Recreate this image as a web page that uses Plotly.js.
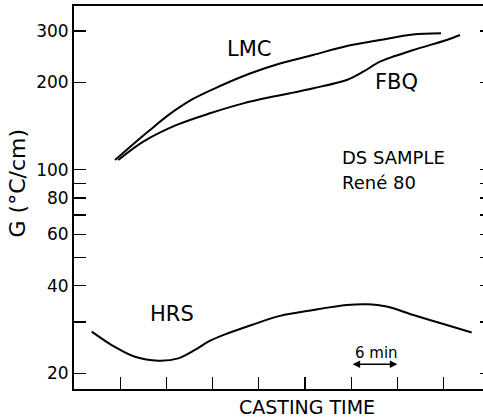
<!DOCTYPE html>
<html>
<head>
<meta charset="utf-8">
<script src="https://cdn.plot.ly/plotly-3.0.1.min.js"></script>
<style>
html, body { margin: 0; padding: 0; overflow: hidden; background: #fff; }
#chart { width: 492px; height: 417px; }
</style>
</head>
<body>
<div id="chart"></div>
<script>
// Casting time in minutes, G in °C/cm
const lmcTime = [5.33, 7.27, 9.87, 12.47, 15.46, 18.97, 22.86, 26.76, 31.05, 35.46, 39.75, 44.04, 47.68];
const lmcG    = [108.1, 119.9, 137.1, 155.7, 175.3, 194.2, 214.4, 232.0, 248.2, 266.5, 279.5, 292.0, 294.8];

const fbqTime = [5.75, 9.00, 13.34, 17.67, 21.99, 25.46, 28.06, 31.09, 35.43, 37.58, 39.75, 44.08, 48.42, 50.14];
const fbqG    = [108.1, 125.0, 142.7, 156.5, 169.3, 177.7, 183.4, 190.8, 203.7, 217.5, 235.4, 258.2, 279.5, 290.8];

const hrsTime = [2.30, 4.90, 7.92, 10.95, 13.55, 15.72, 17.45, 19.62, 23.08, 26.76, 31.09, 35.43, 38.02, 40.62, 44.08, 48.42, 51.66];
const hrsG    = [27.8, 25.0, 22.8, 22.1, 22.5, 24.05, 25.7, 27.2, 29.3, 31.5, 33.0, 34.3, 34.5, 33.9, 31.7, 29.3, 27.6];

const xTickVals = [6, 12, 18, 24, 30, 36, 42, 48];
const yTickVals = [20, 30, 40, 50, 60, 70, 80, 90, 100, 200, 300];
const yTickText = ['20', '', '40', '', '60', '', '80', '', '100', '200', '300'];

const scaleStart = 36, scaleEnd = 42, scaleG = 21.5;

const font = 'DejaVu Sans, sans-serif';
const lineStyle = { color: '#000', width: 2, shape: 'spline', smoothing: 0.9 };

const traces = [
  { x: lmcTime, y: lmcG, name: 'LMC', mode: 'lines', line: lineStyle },
  { x: fbqTime, y: fbqG, name: 'FBQ', mode: 'lines', line: lineStyle },
  { x: hrsTime, y: hrsG, name: 'HRS', mode: 'lines', line: lineStyle }
];

function label(text, x, y, size, opts) {
  return Object.assign({
    text: text, x: x, y: y, xref: 'paper', yref: 'paper',
    showarrow: false, font: { family: font, size: size, color: '#000' },
    xanchor: 'center', yanchor: 'middle'
  }, opts || {});
}

const layout = {
  width: 492, height: 417,
  margin: { l: 74, r: 0, t: 6, b: 28, pad: 0 },
  paper_bgcolor: '#fff', plot_bgcolor: '#fff',
  showlegend: false,
  font: { family: font, color: '#000' },
  xaxis: {
    range: [0, 54.3],
    showgrid: false, zeroline: false,
    showline: true, linecolor: '#000', linewidth: 2, mirror: true,
    ticks: 'inside', ticklen: 12, tickwidth: 1.2, tickcolor: '#000',
    tickvals: xTickVals, showticklabels: false
  },
  yaxis: {
    type: 'log', range: [1.247, 2.5632],
    showgrid: false, zeroline: false,
    showline: true, linecolor: '#000', linewidth: 2, mirror: 'ticks',
    ticks: 'inside', ticklen: 12, tickwidth: 1.2, tickcolor: '#000',
    tickvals: yTickVals, ticktext: yTickText,
    tickfont: { family: font, size: 17, color: '#000' }
  },
  annotations: [
    label('LMC', 0.4187, 0.889, 21),
    label('FBQ', 0.772, 0.8023, 21),
    label('HRS', 0.2356, 0.1958, 21),
    label('DS SAMPLE', 0.6364, 0.605, 18, { xanchor: 'left' }),
    label('René 80', 0.6364, 0.5384, 18, { xanchor: 'left' }),
    label('6 min', 0.7225, 0.0953, 15),
    label('CASTING TIME', 0.5567, -0.0462, 19),
    label('G (°C/cm)', -0.1352, 0.5379, 22, { textangle: -90 }),
    {
      x: scaleEnd, y: Math.log10(scaleG), xref: 'x', yref: 'y',
      ax: scaleStart, ay: Math.log10(scaleG), axref: 'x', ayref: 'y',
      text: '', showarrow: true, arrowside: 'end+start',
      arrowhead: 2, arrowsize: 1, arrowwidth: 1.5, arrowcolor: '#000',
      standoff: 0, startstandoff: 0
    }
  ]
};

Plotly.newPlot('chart', traces, layout, { staticPlot: true, displayModeBar: false });
</script>
</body>
</html>
